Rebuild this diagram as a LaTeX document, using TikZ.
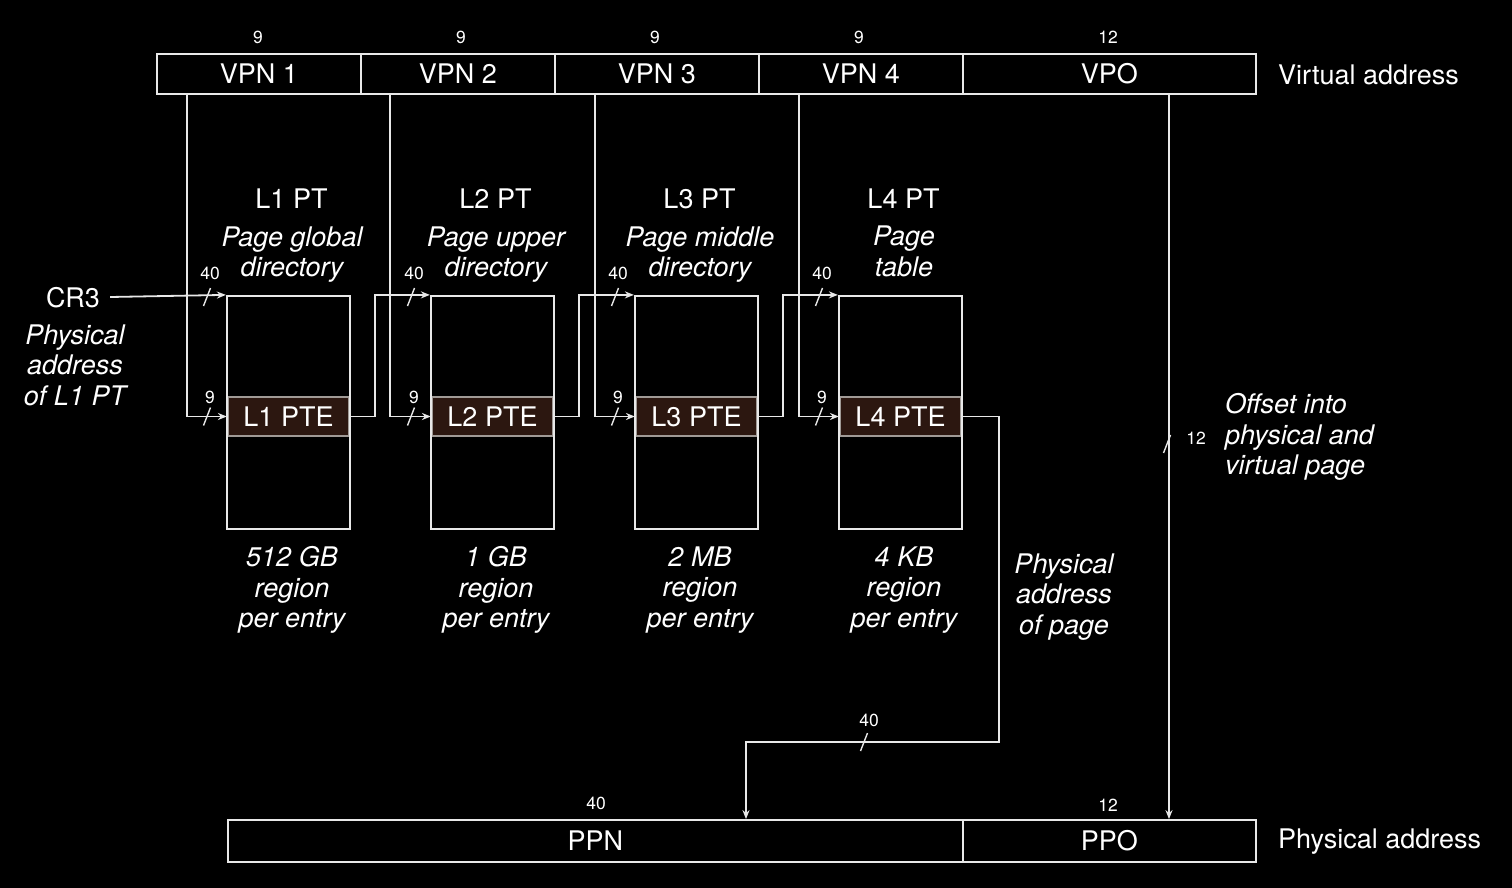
\documentclass[tikz,border=0pt]{standalone}
\usepackage{fontspec}
\setmainfont{TeX Gyre Heros}
\usetikzlibrary{arrows.meta}
\definecolor{fg}{HTML}{E8E8E8}
\definecolor{ptefill}{HTML}{2C1710}
\definecolor{pteline}{HTML}{A09A96}
\tikzset{
  wire/.style={draw=fg, line width=1.8pt},
  arr/.style={wire, -{Stealth[length=9pt,width=7pt]}},
  big/.style={text=white, font=\fontsize{27}{30}\selectfont, inner sep=0pt},
  ital/.style={big, font=\fontsize{27}{30.5}\selectfont\itshape, align=center},
  num/.style={text=white, font=\fontsize{17.5}{19}\selectfont, inner sep=0pt},
  field/.style={big, draw=fg, line width=1.8pt, minimum height=40pt, anchor=west},
  table/.style={draw=fg, line width=2.2pt, minimum width=123pt, minimum height=233pt, inner sep=0pt},
  pte/.style={big, draw=pteline, fill=ptefill, line width=2.2pt, minimum width=121pt, minimum height=39pt},
}
\begin{document}
\begin{tikzpicture}[x=1pt,y=-1pt]
\fill[black] (0,0) rectangle (1512,888);
\useasboundingbox (0,0) rectangle (1512,888);

% top virtual address bar
\node[field, minimum width=204pt] (vpn1) at (156,74) {VPN 1};
\node[field, minimum width=194pt] (vpn2) at (360,74) {VPN 2};
\node[field, minimum width=204pt] (vpn3) at (554,74) {VPN 3};
\node[field, minimum width=204pt] (vpn4) at (758,74) {VPN 4};
\node[field, minimum width=293pt] (vpo) at (962,74) {VPO};
\node[num] (b1) at (258,37) {9};
\node[num] (b2) at (461,37) {9};
\node[num] (b3) at (655,37) {9};
\node[num] (b4) at (859,37) {9};
\node[num] (b5) at (1108,37) {12};
\node[big, anchor=west] (va) at (1278,75) {Virtual address};

% bottom physical address bar
\node[field, minimum width=735pt, minimum height=42pt] (ppn) at (227,841) {PPN};
\node[field, minimum width=293pt, minimum height=42pt] (ppo) at (962,841) {PPO};
\node[num] (pb1) at (596,803) {40};
\node[num] (pb2) at (1108,805) {12};
\node[big, anchor=west] (pa) at (1278,842) {Physical address};

% page table levels
\foreach \i/\x/\t/\b/\dy in {1/288.5/{Page global\\directory}/{512 GB\\region\\per entry}/254.5,
                         2/492.5/{Page upper\\directory}/{1 GB\\region\\per entry}/254.5,
                         3/696.5/{Page middle\\directory}/{2 MB\\region\\per entry}/254.5,
                         4/900.5/{Page\\table}/{4 KB\\region\\per entry}/251.5}{
  \node[pte] (p\i) at (\x,416.5) {L\i\ PTE};
  \node[table] (t\i) at (\x,412.5) {};
  \node[big] (h\i) at (\x+3,199) {L\i\ PT};
  \node[ital] (d\i) at (\x+3.5,\dy) {\t};
  \node[ital] (r\i) at (\x+3.5,590) {\b};
}

% CR3
\node[big] (cr3) at (73,298) {CR3};
\node[ital] (cr3d) at (75,365) {Physical\\address\\of L1 PT};
\draw[arr] (cr3.east) ++(10,-1) -- (t1.north west);

% VPN lines to PTE rows
\coordinate (v1) at (187,94);
\coordinate (v2) at (390,94);
\coordinate (v3) at (595,94);
\coordinate (v4) at (799,94);
\coordinate (v5) at (1169,94);
\foreach \i in {1,...,4}{
  \draw[arr] (v\i) |- (p\i.west);
}
% PTE to next table base
\foreach \i/\j in {1/2,2/3,3/4}{
  \draw[arr] (p\i.east) -- ++(25,0) |- (t\j.north west);
}
% slashes and widths
\foreach \i/\x in {1/207,2/411,3/615,4/819}{
  \draw[wire, line width=1.4pt] (\x,297) ++(-3.5,9) -- ++(7,-18);
  \draw[wire, line width=1.4pt] (\x,416.5) ++(-3.5,9) -- ++(7,-18);
  \node[num] (n40\i) at (\x+3,273) {40};
  \node[num] (n9\i) at (\x+3,397) {9};
}

% L4 PTE to PPN
\coordinate (c1) at (999,742);
\coordinate (c2) at (746,742);
\draw[arr] (p4.east) -| (c1) -- (c2) -- (c2 |- ppn.north);
\draw[wire, line width=1.4pt] (864,742) ++(-3.5,9) -- ++(7,-18);
\node[num] (n40b) at (869,720) {40};
\node[ital] (pap) at (1064,597) {Physical\\address\\of page};

% VPO to PPO
\draw[arr] (v5) -- (v5 |- ppo.north);
\draw[wire, line width=1.4pt] (1167,444) ++(-3.5,9) -- ++(7,-18);
\node[num] (n12) at (1196,438) {12};
\node[ital, align=left, anchor=west] (off) at (1225,437) {Offset into\\physical and\\virtual page};
\end{tikzpicture}
\end{document}
